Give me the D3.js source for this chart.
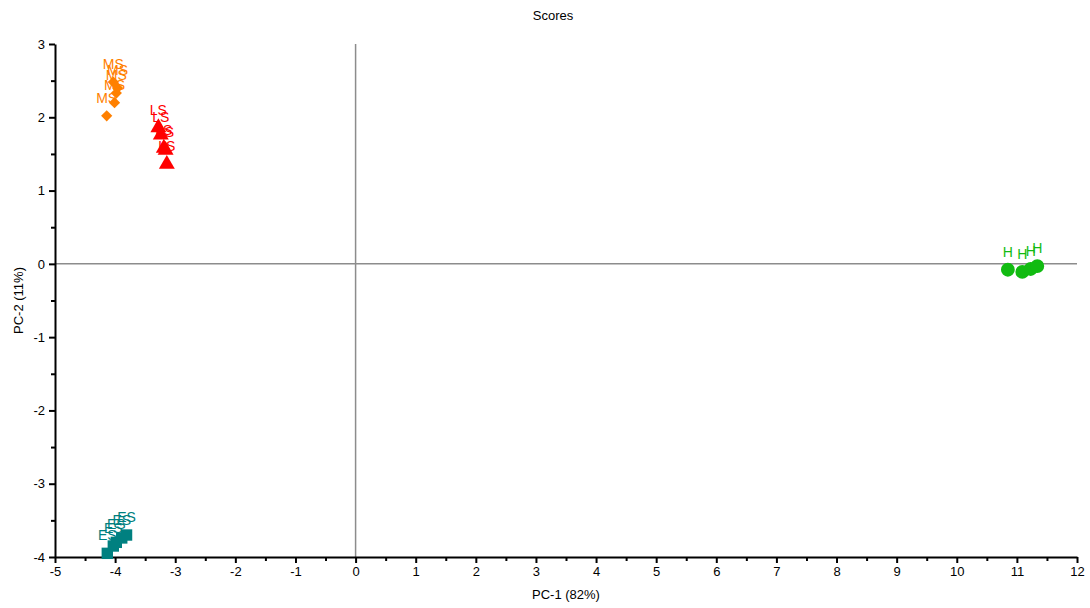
<!DOCTYPE html>
<html>
<head>
<meta charset="utf-8">
<script src="https://cdn.jsdelivr.net/npm/d3@7"></script>
<style>
  body { margin: 0; background: #fff; }
  text { font-family: "Liberation Sans", Arial, sans-serif; }
</style>
</head>
<body>
<svg id="chart" width="1090" height="608"></svg>
<script>
// score values
var msX = [-4.03, -3.96, -3.98, -4.01, -4.14];
var msY = [2.48, 2.40, 2.33, 2.20, 2.02];
var lsX = [-3.28, -3.24, -3.19, -3.16, -3.14];
var lsY = [1.86, 1.76, 1.58, 1.55, 1.36];
var esX = [-3.81, -3.89, -3.98, -4.03, -4.13];
var esY = [-3.70, -3.74, -3.80, -3.85, -3.95];
var hX = [10.85, 11.09, 11.23, 11.34];
var hY = [-0.08, -0.11, -0.07, -0.03];

var xTicks = d3.range(-5, 13, 1);
var yTicks = d3.range(-4, 4, 1);

var groups = [
  {name: "MS", xs: msX, ys: msY, color: "#ff8000", shape: d3.symbolDiamond2, size: 80},
  {name: "LS", xs: lsX, ys: lsY, color: "#ff0000", shape: d3.symbolTriangle, size: 110},
  {name: "ES", xs: esX, ys: esY, color: "#008080", shape: d3.symbolSquare, size: 130},
  {name: "H", xs: hX, ys: hY, color: "#11bb11", shape: d3.symbolCircle, size: 150}
];

var svg = d3.select("#chart");
var margin = {top: 44, right: 13, bottom: 51, left: 55},
    width = 1090 - margin.left - margin.right,
    height = 608 - margin.top - margin.bottom;

var x = d3.scaleLinear().domain([-5, 12]).range([0, width]);
var y = d3.scaleLinear().domain([-4, 3]).range([height, 0]);

var g = svg.append("g")
  .attr("transform", "translate(" + margin.left + "," + margin.top + ")");

// zero reference lines
g.append("line")
  .attr("x1", x(0)).attr("x2", x(0))
  .attr("y1", 0).attr("y2", height)
  .style("stroke", "#8c8c8c").style("stroke-width", 1.5);
g.append("line")
  .attr("x1", 0).attr("x2", width)
  .attr("y1", y(0)).attr("y2", y(0))
  .style("stroke", "#8c8c8c").style("stroke-width", 1.5);

var fmt = function(d) { return d < 0 ? "-" + Math.abs(d) : "" + d; };

// minor ticks at the half units (no labels)
var xMinor = d3.range(-4.5, 12, 1);
var yMinor = d3.range(-3.5, 3, 1);

g.append("g")
  .attr("class", "minor")
  .attr("transform", "translate(0," + height + ")")
  .call(d3.axisBottom(x).tickValues(xMinor).tickSize(4).tickSizeOuter(0).tickFormat(""))
  .select(".domain").remove();
g.append("g")
  .attr("class", "minor")
  .call(d3.axisLeft(y).tickValues(yMinor).tickSize(4).tickSizeOuter(0).tickFormat(""))
  .select(".domain").remove();

var xAxis = g.append("g")
  .attr("transform", "translate(0," + height + ")")
  .call(d3.axisBottom(x).tickValues(xTicks).tickSize(6).tickSizeOuter(0).tickPadding(4).tickFormat(fmt));
var yAxis = g.append("g")
  .call(d3.axisLeft(y).tickValues(yTicks).tickSize(6).tickSizeOuter(0).tickPadding(4).tickFormat(fmt));

g.selectAll(".domain").style("stroke", "#000").style("stroke-width", 2);
g.selectAll(".tick line").style("stroke", "#000").style("stroke-width", 2);
g.selectAll(".tick text")
  .style("font-size", "13px")
  .style("fill", "#000");

// points and labels
groups.forEach(function(grp) {
  var pts = grp.xs.map(function(v, i) { return {x: v, y: grp.ys[i]}; });
  g.append("g").selectAll("path")
    .data(pts)
    .enter().append("path")
    .attr("transform", function(d) { return "translate(" + x(d.x) + "," + y(d.y) + ")"; })
    .attr("d", d3.symbol().type(grp.shape).size(grp.size))
    .style("fill", grp.color);
  g.append("g").selectAll("text")
    .data(pts)
    .enter().append("text")
    .attr("x", function(d) { return x(d.x); })
    .attr("y", function(d) { return y(d.y) - 13; })
    .attr("text-anchor", "middle")
    .style("font-size", "14px")
    .style("fill", grp.color)
    .text(grp.name);
});

// titles
svg.append("text")
  .attr("x", 553).attr("y", 20)
  .attr("text-anchor", "middle")
  .style("font-size", "13px")
  .text("Scores");

svg.append("text")
  .attr("x", 566).attr("y", 599)
  .attr("text-anchor", "middle")
  .style("font-size", "13px")
  .text("PC-1 (82%)");

svg.append("text")
  .attr("transform", "translate(23," + (margin.top + height / 2) + ") rotate(-90)")
  .attr("text-anchor", "middle")
  .style("font-size", "13px")
  .text("PC-2 (11%)");
</script>
</body>
</html>
